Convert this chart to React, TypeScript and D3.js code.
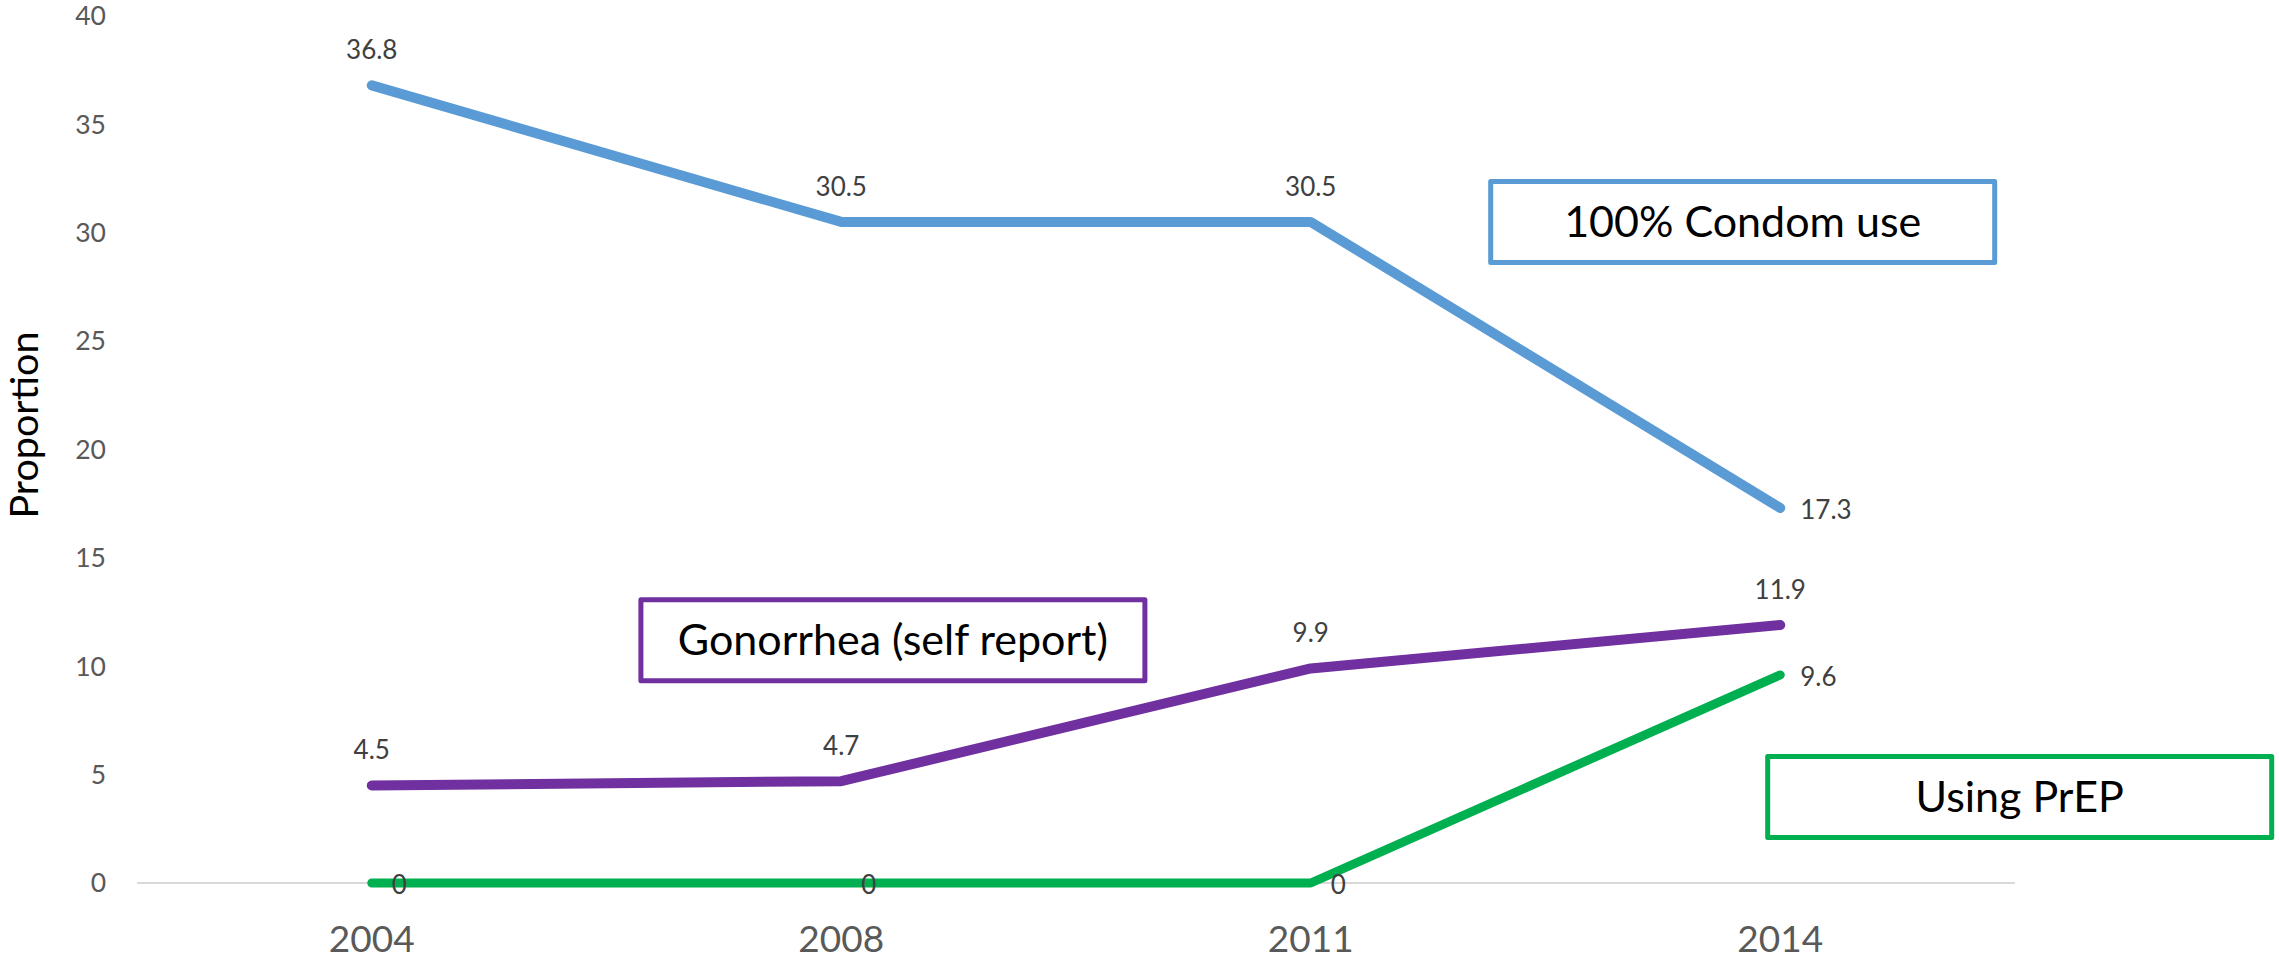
import React from 'react';
import * as d3 from 'd3';

// chart values
const years = ['2004', '2008', '2011', '2014'];
const condomUse = [36.8, 30.5, 30.5, 17.3];
const gonorrhea = [4.5, 4.7, 9.9, 11.9];
const prepUse = [0, 0, 0, 9.6];
const yTicks = [0, 5, 10, 15, 20, 25, 30, 35, 40];

const calloutNames = ['100% Condom use', 'Gonorrhea (self report)', 'Using PrEP'];
// callout centres in chart space: [year index, value]
const calloutAnchors: [number, number][] = [[2.92, 30.5], [1.11, 11.2], [3.51, 3.97]];

const W = 2279;
const H = 965;
const FONT = 'Lato, "Open Sans", sans-serif';

const series = [
  { name: 'condom', values: condomUse, color: '#5B9BD5', width: 10, labelPos: ['top', 'top', 'top', 'right'] },
  { name: 'gonorrhea', values: gonorrhea, color: '#7030A0', width: 10, labelPos: ['top', 'top', 'top', 'top'] },
  { name: 'prep', values: prepUse, color: '#00B050', width: 9, labelPos: ['right', 'right', 'right', 'right'] },
];

export default function App() {
  const x = d3.scalePoint<string>().domain(years).range([137, 2015]).padding(0.5);
  const y = d3.scaleLinear().domain([0, 40]).range([883, 16]);
  const xi = d3.scaleLinear().domain([0, 1]).range([x(years[0])!, x(years[1])!]);

  const line = d3.line<number>()
    .x((_, i) => x(years[i])!)
    .y(d => y(d));

  return (
    <svg width={W} height={H} style={{ position: 'absolute', left: 0, top: 0, background: '#fff' }} fontFamily={FONT}>
      {/* y tick labels */}
      {yTicks.map(t => (
        <text key={t} x={106} y={y(t)} dy="0.35em" textAnchor="end" fontSize={26.5} fill="#595959">{t}</text>
      ))}

      {/* axis line */}
      <line x1={137} x2={2015} y1={y(0)} y2={y(0)} stroke="#D9D9D9" strokeWidth={2} />

      {/* x tick labels */}
      {years.map(yr => (
        <text key={yr} x={x(yr)} y={952} textAnchor="middle" fontSize={37} fill="#595959">{yr}</text>
      ))}

      {/* axis title */}
      <text transform={`translate(38,${425}) rotate(-90)`} textAnchor="middle" fontSize={39.5} fill="#000">Proportion</text>

      {/* lines */}
      {series.map(s => (
        <path key={s.name} d={line(s.values) || ''} fill="none" stroke={s.color} strokeWidth={s.width}
          strokeLinecap="round" strokeLinejoin="bevel" />
      ))}

      {/* data labels */}
      {series.map(s => s.values.map((v, i) => {
        const px = x(years[i])!;
        const py = y(v);
        const top = s.labelPos[i] === 'top';
        return (
          <text key={s.name + i} x={top ? px : px + 20} y={top ? py - 26 : py + 2}
            dy={top ? 0 : '0.35em'} textAnchor={top ? 'middle' : 'start'} fontSize={26} fill="#404040">
            {v}
          </text>
        );
      }))}

      {/* callout boxes */}
      {calloutNames.map((name, i) => {
        const cx = xi(calloutAnchors[i][0]);
        const cy = y(calloutAnchors[i][1]);
        const bw = 504;
        const bh = 81;
        return (
          <g key={name}>
            <rect x={cx - bw / 2} y={cy - bh / 2} width={bw} height={bh} fill="#fff"
              stroke={series[i].color} strokeWidth={5} strokeLinejoin="round" />
            <text x={cx} y={cy} dy="0.35em" textAnchor="middle" fontSize={43} fill="#000">{name}</text>
          </g>
        );
      })}
    </svg>
  );
}
